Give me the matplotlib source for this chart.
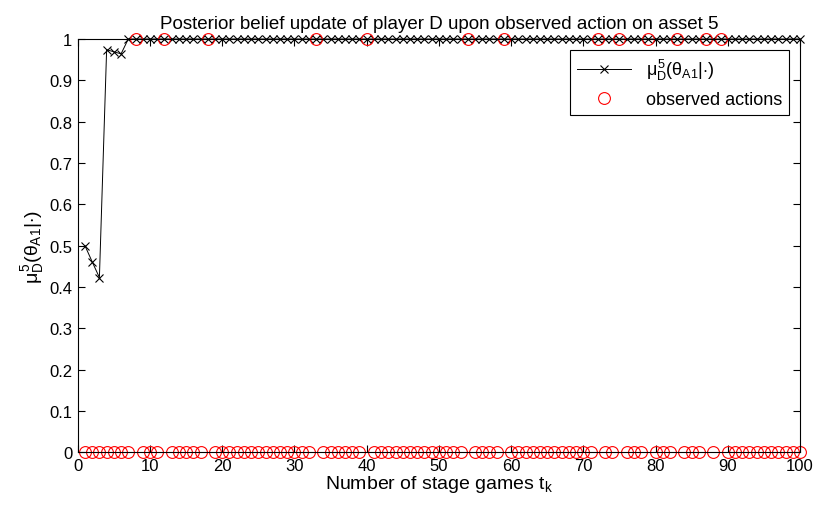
import numpy as np
import matplotlib
matplotlib.use("Agg")
import matplotlib.pyplot as plt

plt.rcParams["font.family"] = ["Liberation Sans", "DejaVu Sans"]
plt.rcParams["mathtext.fontset"] = "custom"
plt.rcParams["mathtext.rm"] = "Liberation Sans"
plt.rcParams["mathtext.it"] = "Liberation Sans"
plt.rcParams["mathtext.bf"] = "Liberation Sans:bold"

# stage game index
stages = np.arange(1, 101)

# posterior belief mu_D^5(theta_A1 | .) per stage
belief = [
    0.50, 0.461, 0.423, 0.974, 0.969, 0.964, 1.0, 1.0, 1.0, 1.0,
    1.0, 1.0, 1.0, 1.0, 1.0, 1.0, 1.0, 1.0, 1.0, 1.0,
    1.0, 1.0, 1.0, 1.0, 1.0, 1.0, 1.0, 1.0, 1.0, 1.0,
    1.0, 1.0, 1.0, 1.0, 1.0, 1.0, 1.0, 1.0, 1.0, 1.0,
    1.0, 1.0, 1.0, 1.0, 1.0, 1.0, 1.0, 1.0, 1.0, 1.0,
    1.0, 1.0, 1.0, 1.0, 1.0, 1.0, 1.0, 1.0, 1.0, 1.0,
    1.0, 1.0, 1.0, 1.0, 1.0, 1.0, 1.0, 1.0, 1.0, 1.0,
    1.0, 1.0, 1.0, 1.0, 1.0, 1.0, 1.0, 1.0, 1.0, 1.0,
    1.0, 1.0, 1.0, 1.0, 1.0, 1.0, 1.0, 1.0, 1.0, 1.0,
    1.0, 1.0, 1.0, 1.0, 1.0, 1.0, 1.0, 1.0, 1.0, 1.0,
]

# observed action of the attacker on asset 5 (0/1)
observed = [
    0, 0, 0, 0, 0, 0, 0, 1, 0, 0,
    0, 1, 0, 0, 0, 0, 0, 1, 0, 0,
    0, 0, 0, 0, 0, 0, 0, 0, 0, 0,
    0, 0, 1, 0, 0, 0, 0, 0, 0, 1,
    0, 0, 0, 0, 0, 0, 0, 0, 0, 0,
    0, 0, 0, 1, 0, 0, 0, 0, 1, 0,
    0, 0, 0, 0, 0, 0, 0, 0, 0, 0,
    0, 1, 0, 0, 1, 0, 0, 0, 1, 0,
    0, 0, 1, 0, 0, 0, 1, 0, 1, 0,
    0, 0, 0, 0, 0, 0, 0, 0, 0, 0,
]

fig = plt.figure(figsize=(8.14, 5.06), dpi=100)
ax = fig.add_axes([0.0955, 0.104, 0.8873, 0.817])

ylab = r"$\mu_D^5(\theta_{A1}|{\cdot})$"
ax.plot(stages, belief, "k-", marker="x", markersize=5.5, linewidth=0.7,
        markeredgewidth=0.8, clip_on=False, label=ylab)
ax.plot(stages, observed, "o", color="red", markerfacecolor="none",
        markersize=8.5, markeredgewidth=0.8, clip_on=False,
        label="observed actions")

ax.set_xlim(0, 100)
ax.set_ylim(0, 1)
ax.set_xticks(np.arange(0, 101, 10))
ax.set_yticks(np.arange(0, 1.01, 0.1))
ax.set_yticklabels(["0", "0.1", "0.2", "0.3", "0.4", "0.5", "0.6", "0.7",
                    "0.8", "0.9", "1"])
ax.tick_params(direction="in", top=True, right=True, length=5, width=0.8,
               labelsize=12, pad=4)
for s in ax.spines.values():
    s.set_linewidth(0.8)

ax.set_title("Posterior belief update of player D upon observed action on asset 5",
             fontsize=13.5, pad=8)
ax.set_xlabel(r"Number of stage games t$_\mathregular{k}$", fontsize=14, labelpad=0)
ax.set_ylabel(ylab, fontsize=14, labelpad=2)

leg = ax.legend(loc="upper right", fontsize=13, fancybox=False, framealpha=1,
                edgecolor="black", borderaxespad=0.6, handlelength=3.0)
leg.get_frame().set_linewidth(0.8)

plt.savefig("out.png", dpi=100)
